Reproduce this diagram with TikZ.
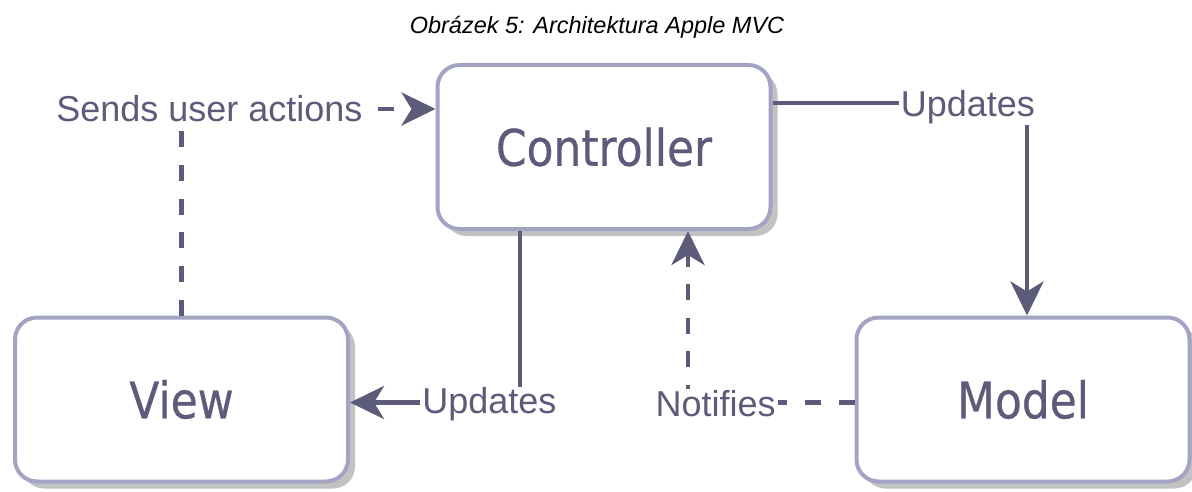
\documentclass[tikz,border=0pt]{standalone}
\usepackage{fontspec}
\setmainfont{Liberation Sans}
\newfontfamily\boxfont[FakeStretch=0.87, FakeBold=0.5]{DejaVu Sans}
\usetikzlibrary{arrows.meta,shadows}
\definecolor{ink}{HTML}{5C5C7A}
\definecolor{frame}{HTML}{A3A3C4}
\definecolor{shade}{HTML}{C2C2C2}
\tikzset{
  block/.style={draw=frame, line width=4pt, rounded corners=22pt, fill=white,
    text=ink, font=\boxfont\fontsize{50.5}{56}\selectfont,
    minimum width=333pt, minimum height=164pt, inner sep=0pt,
    drop shadow={shadow xshift=7pt, shadow yshift=-7pt, fill=shade, opacity=1}},
  link/.style={draw=ink, line width=4.5pt,
    -{Stealth[length=34pt, width=33pt, inset=10pt]}},
  dashlink/.style={link, dash pattern=on 16pt off 17.6pt},
  tag/.style={fill=white, text=ink, font=\fontsize{36}{40}\selectfont,
    inner xsep=2pt, inner ysep=1pt},
  caption/.style={font=\itshape\fontsize{23.5}{28}\selectfont, text=black}
}
\begin{document}
\begin{tikzpicture}[x=1pt, y=-1pt]
  \useasboundingbox (0,0) rectangle (1192,492);

  \node[caption] (title) at (597,27) {Obrázek 5: Architektura Apple MVC};

  % the three parts of the pattern
  \node[block] (ctrl)  at (604,147)   {Controller};
  \node[block] (view)  at (181.5,399.5) {View};
  \node[block] (model) at (1023,399.5) {Model};

  % view -> controller: user actions
  \draw[dashlink] (view.north) |- ([yshift=38pt]ctrl.west)
    node[tag, pos=0.555] (sends) {Sends user actions};

  % controller -> model: updates
  \draw[link] ([yshift=44pt]ctrl.east) -| ([xshift=4pt]model.north)
    node[tag, pos=0.384, yshift=-4pt] (upd1) {Updates};

  % controller -> view: updates
  \draw[link] ([xshift=-84pt]ctrl.south) |- ([yshift=-3pt]view.east)
    node[tag, pos=0.59, yshift=-2pt] (upd2) {Updates};

  % model -> controller: notifications
  \draw[dashlink] ([yshift=-3pt]model.west) -| ([xshift=84pt]ctrl.south)
    node[tag, pos=0.417, yshift=-1pt] (notif) {Notifies};
\end{tikzpicture}
\end{document}
